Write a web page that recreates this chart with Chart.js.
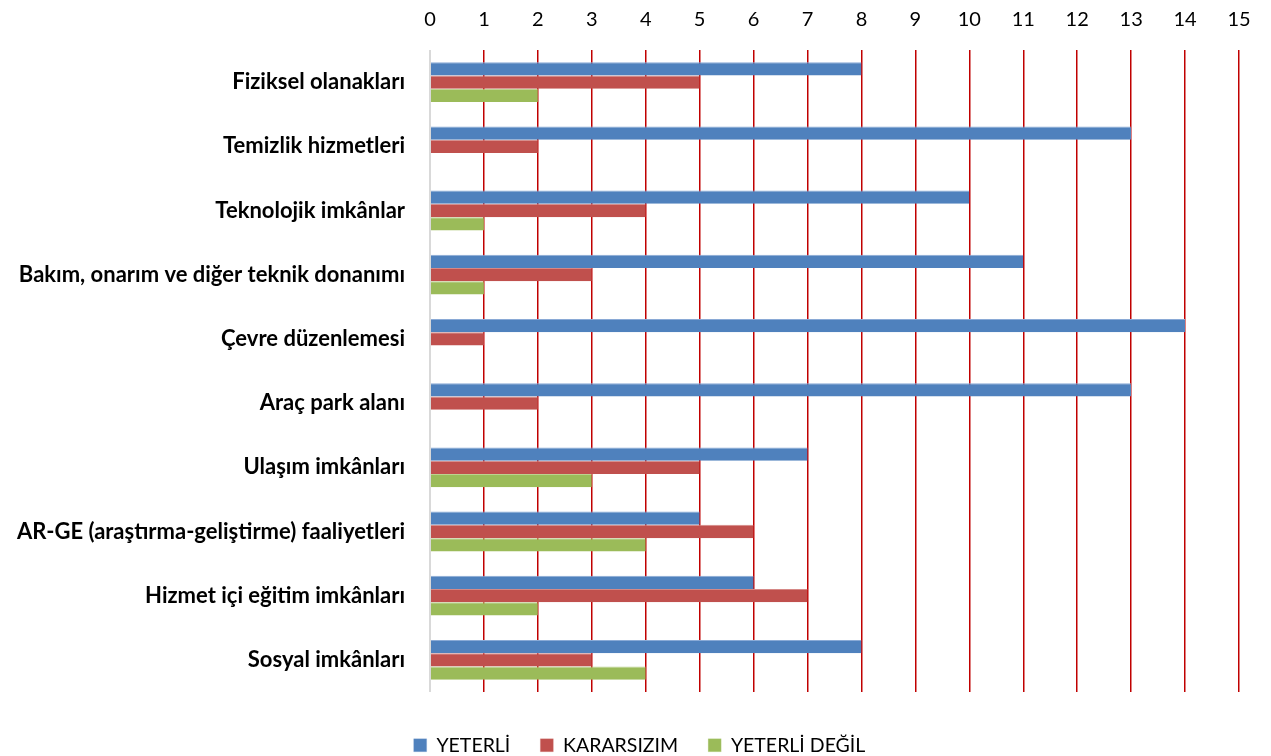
<!DOCTYPE html>
<html>
<head>
<meta charset="utf-8">
<script src="https://cdn.jsdelivr.net/npm/chart.js@4/dist/chart.umd.min.js"></script>
<style>
  html, body { margin: 0; padding: 0; background: #fff; }
  #wrap { width: 1271px; height: 756px; }
</style>
</head>
<body>
<div id="wrap"><canvas id="grafico"></canvas></div>
<script>
const categories = [
  'Fiziksel olanakları',
  'Temizlik hizmetleri',
  'Teknolojik imkânlar',
  'Bakım, onarım ve diğer teknik donanımı',
  'Çevre düzenlemesi',
  'Araç park alanı',
  'Ulaşım imkânları',
  'AR-GE (araştırma-geliştirme) faaliyetleri',
  'Hizmet içi eğitim imkânları',
  'Sosyal imkânları'
];
const seriesNames = ['YETERLİ', 'KARARSIZIM', 'YETERLİ DEĞİL'];
const yeterli     = [8, 13, 10, 11, 14, 13, 7, 5, 6, 8];
const kararsizim  = [5, 2, 4, 3, 1, 2, 5, 6, 7, 3];
const yeterliDegil = [2, 0, 1, 1, 0, 0, 3, 4, 2, 4];
const xMin = 0, xMax = 15, xStep = 1;

const colors = ['#4F81BD', '#C0504D', '#9BBB59'];
const edges = ['#8AAAD6', '#D68886', '#BCD38F'];

// legend sits a little right of the canvas centre in the original
const legendShift = {
  id: 'legendShift',
  afterLayout(chart) {
    chart.legend.left += 18;
    chart.legend.right += 18;
  }
};

const graph = document.getElementById('grafico');
new Chart(graph, {
  type: 'bar',
  data: {
    labels: categories,
    datasets: [yeterli, kararsizim, yeterliDegil].map((d, i) => ({
      label: seriesNames[i],
      data: d,
      backgroundColor: colors[i],
      borderColor: edges[i],
      borderWidth: { top: 1, right: 0, bottom: 0, left: 0 },
      borderSkipped: false,
      categoryPercentage: 0.62,
      barPercentage: 1.0
    }))
  },
  options: {
    indexAxis: 'y',
    responsive: true,
    maintainAspectRatio: false,
    animation: false,
    layout: { padding: { left: 4, right: 32, top: 0, bottom: -9 } },
    scales: {
      x: {
        position: 'top',
        min: xMin,
        max: xMax,
        ticks: {
          stepSize: xStep,
          padding: 18,
          color: '#000',
          font: { family: 'Lato', size: 20 }
        },
        grid: {
          drawTicks: false,
          lineWidth: (ctx) => (ctx.tick && ctx.tick.value === 0) ? 2 : 1.5,
          color: (ctx) => (ctx.tick && ctx.tick.value === 0) ? '#D9D9D9' : '#C00000'
        },
        border: { display: false },
        afterFit: (s) => { s.height = 50; }
      },
      x2: {
        position: 'bottom',
        min: 0,
        max: 1,
        ticks: { display: false },
        grid: { display: false },
        border: { display: false },
        afterFit: (s) => { s.height = 13.5; }
      },
      y: {
        ticks: {
          padding: 17,
          color: '#000',
          font: { family: 'Lato', size: 22, weight: 'bold' }
        },
        grid: { display: false },
        border: { display: false },
        afterFit: (s) => { s.width = 426; }
      }
    },
    plugins: {
      legend: {
        position: 'bottom',
        labels: {
          boxWidth: 13,
          boxHeight: 13,
          padding: 30,
          color: '#000',
          font: { family: 'Lato', size: 19.5 }
        }
      },
      tooltip: { enabled: false }
    }
  },
  plugins: [legendShift]
});
</script>
</body>
</html>
